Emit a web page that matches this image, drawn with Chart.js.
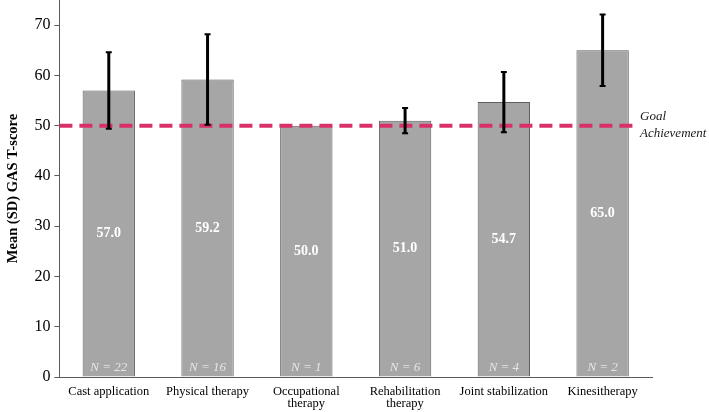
<!DOCTYPE html>
<html>
<head>
<meta charset="utf-8">
<script src="https://cdn.jsdelivr.net/npm/chart.js@4"></script>
<style>
  html, body { margin: 0; padding: 0; background: #fff; }
  #wrap { width: 709px; height: 412px; }
</style>
</head>
<body>
<div id="wrap"><canvas id="gasChart"></canvas></div>
<script>
const categories = ['Cast application', 'Physical therapy', ['Occupational', 'therapy'], ['Rehabilitation', 'therapy'], 'Joint stabilization', 'Kinesitherapy'];
const means = [57.0, 59.2, 50.0, 51.0, 54.7, 65.0];
const sds = [7.6, 9.0, 0, 2.5, 6.0, 7.1];
const counts = [22, 16, 1, 6, 4, 2];
const yTicks = [0, 10, 20, 30, 40, 50, 60, 70];
const goalValue = 50;

const serif = '"Liberation Serif", "Times New Roman", serif';

// error bars, value labels, N labels and the goal line
const extras = {
  id: 'extras',
  afterDatasetsDraw(chart) {
    const { ctx, chartArea } = chart;
    const y = chart.scales.y;
    const meta = chart.getDatasetMeta(0);

    ctx.save();
    // labels inside bars
    ctx.textAlign = 'center';
    ctx.textBaseline = 'middle';
    meta.data.forEach((bar, i) => {
      ctx.fillStyle = '#ffffff';
      ctx.font = 'bold 14px ' + serif;
      ctx.fillText(means[i].toFixed(1), bar.x, y.getPixelForValue(means[i] / 2));
      ctx.fillStyle = '#e6e6e6';
      ctx.font = 'italic 13px ' + serif;
      ctx.fillText('N = ' + counts[i], bar.x, y.getPixelForValue(0) - 9);
    });

    // goal line
    const gy = y.getPixelForValue(goalValue);
    ctx.strokeStyle = '#d9306a';
    ctx.lineWidth = 4;
    ctx.setLineDash([13, 7]);
    ctx.beginPath();
    ctx.moveTo(chartArea.left, gy);
    ctx.lineTo(chartArea.right - 15, gy);
    ctx.stroke();
    ctx.setLineDash([]);

    // error bars
    ctx.strokeStyle = '#000000';
    meta.data.forEach((bar, i) => {
      if (!sds[i]) return;
      const top = y.getPixelForValue(means[i] + sds[i]);
      const bot = y.getPixelForValue(means[i] - sds[i]);
      ctx.lineWidth = 3;
      ctx.beginPath();
      ctx.moveTo(bar.x, top);
      ctx.lineTo(bar.x, bot);
      ctx.stroke();
      ctx.lineWidth = 2;
      ctx.beginPath();
      ctx.moveTo(bar.x - 3, top); ctx.lineTo(bar.x + 3, top);
      ctx.moveTo(bar.x - 3, bot); ctx.lineTo(bar.x + 3, bot);
      ctx.stroke();
    });

    // goal label
    ctx.fillStyle = '#1a1a1a';
    ctx.font = 'italic 13px ' + serif;
    ctx.textAlign = 'left';
    ctx.fillText('Goal', chartArea.right - 12, gy - 9);
    ctx.fillText('Achievement', chartArea.right - 12, gy + 8);
    ctx.restore();
  }
};

new Chart(document.getElementById('gasChart').getContext('2d'), {
  type: 'bar',
  data: {
    labels: categories,
    datasets: [{
      data: means,
      backgroundColor: '#a6a6a6',
      borderColor: '#5e5e5e',
      borderWidth: 1,
      borderSkipped: 'bottom',
      categoryPercentage: 1,
      barPercentage: 0.53
    }]
  },
  options: {
    responsive: true,
    maintainAspectRatio: false,
    animation: false,
    layout: { padding: { top: 0, right: 57, left: 5, bottom: -6 } },
    plugins: { legend: { display: false }, tooltip: { enabled: false } },
    scales: {
      x: {
        grid: { display: false, drawTicks: false },
        border: { display: true, color: '#595959', width: 1 },
        ticks: { color: '#000', font: { family: serif, size: 12.5, lineHeight: 1.0 }, padding: 8, maxRotation: 0, autoSkip: false },
        afterFit: axis => { axis.paddingLeft = 0; axis.paddingRight = 0; }
      },
      y: {
        min: 0,
        max: 75,
        afterBuildTicks: axis => { axis.ticks = yTicks.map(v => ({ value: v })); },
        afterFit: axis => { axis.paddingTop = 0; axis.paddingBottom = 0; },
        grid: { drawOnChartArea: false, drawTicks: true, tickLength: 5, color: '#595959' },
        border: { display: true, color: '#595959', width: 1 },
        ticks: { color: '#000', font: { family: serif, size: 16 }, padding: 4 },
        title: {
          display: true,
          text: 'Mean (SD) GAS T-score',
          color: '#000',
          font: { family: serif, size: 14.5, weight: 'bold' },
          padding: { top: 0, bottom: 8 }
        }
      }
    }
  },
  plugins: [extras]
});
</script>
</body>
</html>
